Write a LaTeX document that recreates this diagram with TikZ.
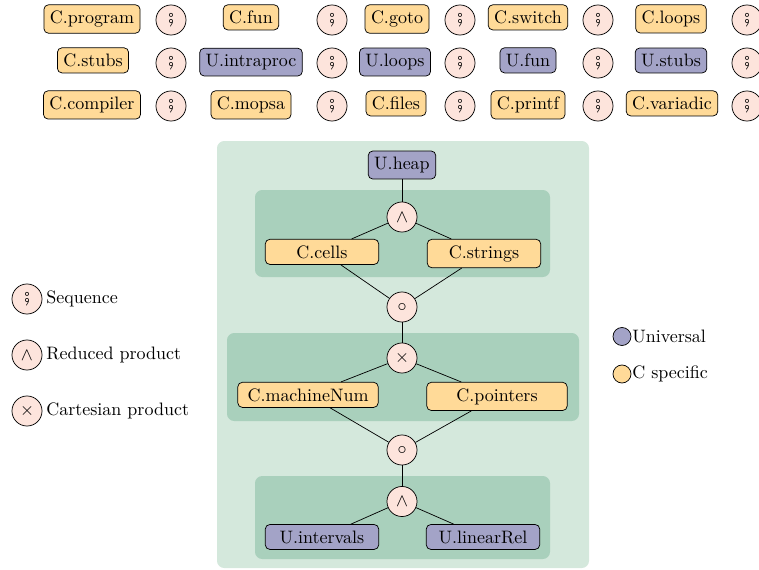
\documentclass[tikz,border=0pt]{standalone}
\usepackage{amssymb}
\usepackage{amsmath}
\usepackage{stmaryrd}
\usetikzlibrary{positioning}

\definecolor{univ}{HTML}{A3A3C7}
\definecolor{cspec}{HTML}{FFDA98}
\definecolor{oppink}{HTML}{FDE4DC}
\definecolor{bgouter}{HTML}{D4E8DC}
\definecolor{bginner}{HTML}{A9D0BC}

\begin{document}
\begin{tikzpicture}[x=0.5556pt,y=-0.5556pt,
    dom/.style={draw,rounded corners=2.5pt,anchor=base},
    cdom/.style={dom,fill=cspec},
    udom/.style={dom,fill=univ},
    op/.style={draw,shape=circle,fill=oppink,minimum size=16.7pt,inner sep=0pt},
    legdot/.style={draw,shape=circle,minimum size=10pt,inner sep=0pt},
    region/.style={rounded corners=4pt}]
  \useasboundingbox (0,0) rectangle (759,569);

  % top grid of iterators
  \node[cdom] (cprogram) at (92,23.5) {C.program};
  \node[op] (s11) at (171,20) {$\fatsemi$};
  \node[cdom] (cfun) at (251,23.5) {C.fun};
  \node[op] (s12) at (332,20) {$\fatsemi$};
  \node[cdom] (cgoto) at (397,23.5) {C.goto};
  \node[op] (s13) at (460,20) {$\fatsemi$};
  \node[cdom] (cswitch) at (528,23.5) {C.switch};
  \node[op] (s14) at (598,20) {$\fatsemi$};
  \node[cdom] (cloops) at (671,23.5) {C.loops};
  \node[op] (s15) at (747,20) {$\fatsemi$};

  \node[cdom] (cstubs) at (93,66.5) {C.stubs};
  \node[op] (s21) at (171,63) {$\fatsemi$};
  \node[udom] (uintra) at (251,66.5) {U.intraproc};
  \node[op] (s22) at (332,63) {$\fatsemi$};
  \node[udom] (uloops) at (395,66.5) {U.loops};
  \node[op] (s23) at (460,63) {$\fatsemi$};
  \node[udom] (ufun) at (528,66.5) {U.fun};
  \node[op] (s24) at (598,63) {$\fatsemi$};
  \node[udom] (ustubs) at (671,66.5) {U.stubs};
  \node[op] (s25) at (747,63) {$\fatsemi$};

  \node[cdom] (ccompiler) at (92,109.5) {C.compiler};
  \node[op] (s31) at (171,106) {$\fatsemi$};
  \node[cdom] (cmopsa) at (251,109.5) {C.mopsa};
  \node[op] (s32) at (332,106) {$\fatsemi$};
  \node[cdom] (cfiles) at (396,109.5) {C.files};
  \node[op] (s33) at (460,106) {$\fatsemi$};
  \node[cdom] (cprintf) at (528,109.5) {C.printf};
  \node[op] (s34) at (598,106) {$\fatsemi$};
  \node[cdom] (cvariadic) at (672,109.5) {C.variadic};
  \node[op] (s35) at (747,106) {$\fatsemi$};

  % value domains
  \fill[region,bgouter] (217,141) rectangle (589,568);
  \fill[region,bginner] (255,190) rectangle (550,277);
  \fill[region,bginner] (227,333) rectangle (579,421);
  \fill[region,bginner] (255,476) rectangle (550,559);

  \node[udom] (uheap) at (402,169.5) {U.heap};
  \node[op] (red1) at (402,217) {$\wedge$};
  \node[cdom,minimum width=63pt] (ccells) at (322,258) {C.cells};
  \node[cdom,minimum width=63pt] (cstrings) at (484,258) {C.strings};
  \node[op] (comp1) at (402,307) {$\circ$};
  \node[op] (cart) at (402,358) {$\times$};
  \node[cdom,minimum width=78pt] (cmachine) at (308,401) {C.machineNum};
  \node[cdom,minimum width=78pt] (cpointers) at (497,401) {C.pointers};
  \node[op] (comp2) at (402,450) {$\circ$};
  \node[op] (red2) at (402,501.5) {$\wedge$};
  \node[udom,minimum width=63pt] (uintervals) at (322,543) {U.intervals};
  \node[udom,minimum width=63pt] (ulinear) at (483,543) {U.linearRel};

  \draw (uheap) -- (red1);
  \draw (red1) -- (ccells);
  \draw (red1) -- (cstrings);
  \draw (ccells) -- (comp1);
  \draw (cstrings) -- (comp1);
  \draw (comp1) -- (cart);
  \draw (cart) -- (cmachine);
  \draw (cart) -- (cpointers);
  \draw (cmachine) -- (comp2);
  \draw (cpointers) -- (comp2);
  \draw (comp2) -- (red2);
  \draw (red2) -- (uintervals);
  \draw (red2) -- (ulinear);

  % legends
  \node[op] (seqleg) at (27,299) {$\fatsemi$};
  \node[right=0pt of seqleg,inner xsep=2pt] (seqtxt) {Sequence};
  \node[op] (redleg) at (27,355) {$\wedge$};
  \node[right=0pt of redleg,inner xsep=2pt] (redtxt) {Reduced product};
  \node[op] (cartleg) at (27,411) {$\times$};
  \node[right=0pt of cartleg,inner xsep=2pt] (carttxt) {Cartesian product};

  \node[legdot,fill=univ] (uleg) at (622,336.5) {};
  \node[right=0pt of uleg,inner xsep=0.3pt] (utxt) {Universal};
  \node[legdot,fill=cspec] (cleg) at (622,374) {};
  \node[right=0pt of cleg,inner xsep=0.3pt] (ctxt) {C specific};
\end{tikzpicture}
\end{document}
